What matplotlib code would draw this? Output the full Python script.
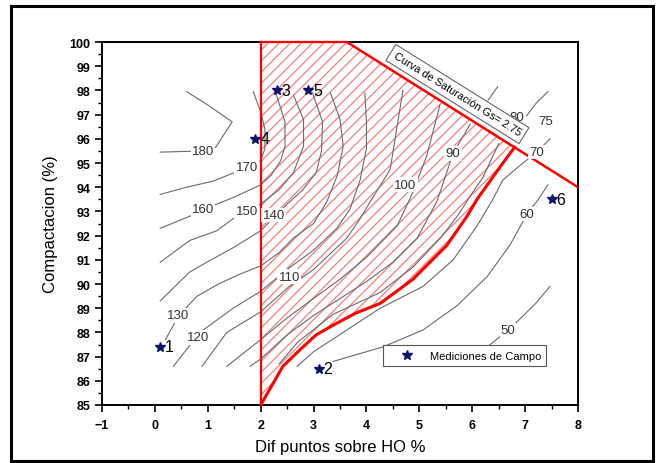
import numpy as np
import matplotlib
matplotlib.use("Agg")
import matplotlib.pyplot as plt
from matplotlib.patches import Rectangle
from matplotlib.ticker import MultipleLocator

plt.rcParams['font.family'] = ['Liberation Sans', 'DejaVu Sans']
plt.rcParams['hatch.linewidth'] = 0.9

# field measurements
pt_x = [0.1, 3.1, 2.3, 1.9, 2.9, 7.5]
pt_y = [87.4, 86.5, 98.0, 96.0, 98.0, 93.5]
pt_names = ["1", "2", "3", "4", "5", "6"]

# saturation curve Gs = 2.75
sat_x = [3.63, 8.0]
sat_y = [100.0, 94.0]

# lower limit of the hatched zone
bound_x = [2.0, 2.42, 2.75, 3.05, 3.37, 3.8, 4.26, 4.88, 5.52, 5.9, 6.09, 6.58, 6.8]
bound_y = [85.0, 86.6, 87.3, 87.9, 88.3, 88.8, 89.2, 90.2, 91.6, 92.8, 93.5, 95.0, 95.65]

# contour lines
c180 = [(0.1, 95.45), (0.91, 95.5), (1.15, 95.65), (1.46, 96.7), (1.0, 97.4), (0.6, 97.95)]
c170 = [(0.1, 93.7), (0.6, 94.0), (1.1, 94.25), (1.5, 94.6), (1.74, 94.83), (2.0, 95.1),
        (2.08, 95.6), (2.08, 96.4), (2.0, 97.1), (1.86, 97.95)]
c160 = [(0.1, 92.3), (0.66, 92.8), (0.91, 93.1), (1.17, 93.3), (1.51, 93.6), (2.0, 94.1),
        (2.2, 94.5), (2.38, 95.1), (2.46, 95.7), (2.46, 96.7), (2.27, 98.0)]
c150 = [(0.1, 90.9), (0.66, 91.8), (1.17, 92.2), (1.48, 92.7), (1.74, 93.0), (2.0, 93.3),
        (2.35, 93.9), (2.62, 94.6), (2.81, 95.7), (2.81, 96.8), (2.62, 97.8)]
c140 = [(0.1, 89.3), (0.66, 90.5), (0.98, 90.9), (1.48, 91.5), (2.0, 92.2), (2.25, 92.75),
        (2.5, 93.3), (2.8, 93.9), (3.05, 94.6), (3.15, 95.5), (3.17, 96.7), (2.98, 97.9)]
c130 = [(0.2, 87.7), (0.45, 88.7), (0.8, 89.5), (1.2, 90.0), (1.6, 90.4), (2.0, 90.75),
        (2.35, 91.3), (2.62, 91.9), (3.0, 92.5), (3.25, 93.4), (3.45, 94.5), (3.56, 95.7),
        (3.5, 96.8), (3.32, 97.9)]
c120 = [(0.35, 86.6), (0.6, 87.3), (0.85, 88.0), (1.48, 89.0), (2.0, 89.7), (2.5, 90.6),
        (3.0, 91.4), (3.44, 92.3), (3.69, 93.1), (3.88, 94.3), (4.0, 95.6), (4.0, 96.7),
        (3.97, 97.9)]
c110 = [(0.89, 86.6), (1.36, 88.0), (2.0, 88.85), (2.54, 89.9), (3.0, 90.6), (3.63, 91.9),
        (3.88, 92.7), (4.07, 93.4), (4.3, 94.2), (4.45, 94.75), (4.57, 96.4), (4.69, 98.0)]
c100 = [(1.36, 86.6), (2.0, 87.7), (2.5, 88.6), (3.0, 89.4), (3.5, 90.2), (4.0, 91.1),
        (4.58, 92.4), (4.88, 93.8), (5.14, 95.3), (5.39, 97.4)]
c90 = [(1.8, 86.6), (2.0, 86.9), (2.5, 87.9), (3.0, 88.7), (3.5, 89.4), (4.0, 90.1),
       (4.5, 90.9), (4.96, 91.9), (5.33, 93.4), (5.64, 95.4), (5.96, 96.6)]
c85 = [(2.35, 86.7), (2.7, 87.6), (3.37, 88.75), (4.26, 89.65), (4.88, 90.7), (5.4, 91.9),
       (5.75, 92.9), (5.95, 93.6), (6.2, 94.4), (6.5, 95.8)]
c80 = [(6.48, 98.15), (6.3, 97.6)]
c75 = [(7.43, 97.95), (7.2, 97.45), (7.03, 96.95)]
c70 = [(2.69, 86.6), (3.0, 87.2), (3.63, 88.1), (4.26, 89.0), (5.07, 89.9), (5.64, 91.0),
       (6.09, 92.4), (6.39, 93.5), (6.58, 94.3), (6.96, 95.0), (7.22, 95.45), (7.47, 96.0)]
c60 = [(3.37, 86.8), (4.31, 87.4), (5.07, 88.1), (5.71, 89.1), (6.28, 90.3), (6.71, 91.6),
       (7.04, 92.9), (7.25, 93.5), (7.43, 94.1)]
c50 = [(5.77, 86.7), (6.1, 87.1), (6.34, 87.5), (6.68, 88.1), (6.9, 88.55), (7.2, 89.2),
       (7.47, 89.9)]

# contour labels and where they sit
lab_text = ["180", "170", "160", "150", "140", "130", "120", "110", "100", "90", "80", "75", "70", "60", "50"]
lab_x = [0.91, 1.74, 0.91, 1.74, 2.25, 0.44, 0.82, 2.54, 4.73, 5.64, 6.85, 7.39, 7.22, 7.04, 6.68]
lab_y = [95.5, 94.83, 93.1, 93.0, 92.85, 88.7, 87.8, 90.3, 94.1, 95.4, 96.9, 96.75, 95.45, 92.9, 88.1]


fig = plt.figure(figsize=(6.59, 4.64), dpi=100)
ax = fig.add_axes([0.1548, 0.125, 0.7223, 0.7823])

# hatched zone between x=2, the saturation curve and the lower limit
zone_x = bound_x + [sat_x[0], 2.0]
zone_y = bound_y + [sat_y[0], 100.0]
ax.fill(zone_x, zone_y, facecolor='none', edgecolor='#f47f7f', hatch='///', lw=0, zorder=1)

grey = '#6a6a6a'
for line in [c180, c170, c160, c150, c140, c130, c120, c110, c100, c90, c85,
             c80, c75, c70, c60, c50]:
    xs, ys = zip(*line)
    ax.plot(xs, ys, color=grey, lw=0.8, zorder=2)

red = '#ff0000'
ax.plot(bound_x, bound_y, color=red, lw=2.2, zorder=3)
ax.plot(sat_x, sat_y, color=red, lw=1.8, zorder=3)
ax.plot([2.0, 2.0], [85.0, 100.0], color=red, lw=1.6, zorder=3, clip_on=False)
ax.plot([2.0, sat_x[0]], [100.0, 100.0], color=red, lw=1.6, zorder=3, clip_on=False)

for t, x, y in zip(lab_text, lab_x, lab_y):
    ax.text(x, y, t, fontsize=9.5, color='#333333', ha='center', va='center', zorder=4,
            bbox=dict(boxstyle='square,pad=0.1', fc='white', ec='none'))

ax.text(5.72, 97.85, "Curva de Saturación Gs= 2.75", fontsize=7.9, rotation=-32,
        rotation_mode='anchor', ha='center', va='center', zorder=5, clip_on=False,
        bbox=dict(boxstyle='square,pad=0.4', fc='white', ec='#666666', lw=0.8))

ax.plot(pt_x, pt_y, '*', color='#10106e', ms=7, ls='none', zorder=6,
        label='Mediciones de Campo')
for n, x, y in zip(pt_names, pt_x, pt_y):
    ax.annotate(n, (x, y), xytext=(3.5, 0), textcoords='offset points',
                fontsize=11.5, ha='left', va='center', zorder=6)

ax.set_xlim(-1, 8)
ax.set_ylim(85, 100)
ax.xaxis.set_major_locator(MultipleLocator(1))
ax.xaxis.set_minor_locator(MultipleLocator(0.5))
ax.yaxis.set_major_locator(MultipleLocator(1))
ax.yaxis.set_minor_locator(MultipleLocator(0.5))
ax.tick_params(which='major', direction='out', length=5, width=1.2, labelsize=9)
ax.tick_params(axis='x', which='major', pad=5)
ax.tick_params(which='minor', direction='out', length=3, width=1.0)
for lbl in ax.get_xticklabels() + ax.get_yticklabels():
    lbl.set_fontweight('bold')
for s in ax.spines.values():
    s.set_linewidth(1.4)

ax.set_xlabel("Dif puntos sobre HO %", fontsize=12, labelpad=6)
ax.set_ylabel("Compactacion (%)", fontsize=12, labelpad=8)

leg = ax.legend(loc='lower left', bbox_to_anchor=(0.59, 0.107), fontsize=8,
                fancybox=False, edgecolor='#555555', framealpha=1, borderaxespad=0,
                borderpad=0.5, handlelength=3.3, handletextpad=0.4)
leg.get_frame().set_linewidth(0.8)

fig.patches.append(Rectangle((0.0167, 0.0043), 0.9743, 0.9807, transform=fig.transFigure,
                             fill=False, edgecolor='black', lw=2.2))

fig.savefig("out.png", dpi=100)
